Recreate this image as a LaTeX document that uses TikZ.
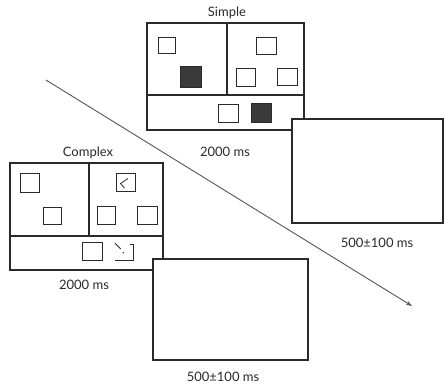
\documentclass[tikz,border=0pt]{standalone}
\usepackage{fontspec}
\setmainfont{Lato}
\usetikzlibrary{arrows.meta,calc}
\definecolor{ink}{HTML}{2A2A2A}
\definecolor{darkfill}{HTML}{3A3A3A}
\begin{document}
\begin{tikzpicture}[x=1pt,y=-1pt,
  frame/.style={draw=ink,line width=1.1pt,fill=white,inner sep=0pt},
  blank/.style={draw=ink,line width=1.1pt,fill=white,inner sep=0pt},
  sq/.style={draw=ink,line width=1pt,inner sep=0pt,minimum width=19pt,minimum height=17pt},
  fsq/.style={sq,fill=darkfill},
  lbl/.style={font=\fontsize{13}{15}\selectfont,text=ink,inner sep=0pt},
  divider/.style={draw=ink,line width=1.1pt},
  arrowline/.style={draw=ink!80,line width=0.9pt,-{Stealth[length=6pt,width=4pt]}}]
\useasboundingbox (0,0) rectangle (445,388);

% arrow in the background
\coordinate (a0) at (46,80);
\coordinate (a1) at (412,306);
\draw[arrowline] (a0) -- (a1);

% ---------- Simple ----------
\node[frame,minimum width=157pt,minimum height=107pt] (simple) at (225.5,76.5) {};
\draw[divider] (simple.west |- 0,95) -- (simple.east |- 0,95);
\draw[divider] (227,0 |- simple.north) -- (227,95);
\node[sq,minimum width=17pt,minimum height=16pt] (s1) at (167,45) {};
\node[fsq,minimum width=21pt,minimum height=21pt] (s2) at (190.5,76.5) {};
\node[sq,minimum width=20pt] (s3) at (266,45.5) {};
\node[sq,minimum height=18pt] (s4) at (245.5,77) {};
\node[sq,minimum width=20pt] (s5) at (287,76.5) {};
\node[sq,minimum width=20pt,minimum height=18pt] (s6) at (228,113) {};
\node[fsq,minimum width=20pt,minimum height=19pt] (s7) at (261,112.5) {};
\node[lbl] (simplelbl) at (227,13) {Simple};
\node[lbl] (simplems) at (225,152) {2000 ms};

% ---------- Complex ----------
\node[frame,minimum width=153pt,minimum height=107pt] (complex) at (86.5,216.5) {};
\draw[divider] (complex.west |- 0,236) -- (complex.east |- 0,236);
\draw[divider] (89,0 |- complex.north) -- (89,236);
\node[sq,minimum height=19pt] (c1) at (30,183) {};
\node[sq,minimum width=18pt] (c2) at (52,215.5) {};
\node[sq,minimum height=18pt] (c3) at (125.5,182.5) {};
\draw[ink,line width=0.8pt] ($(c3.center)+(2.5,-4)$) -- ($(c3.center)+(-5,1)$) -- ($(c3.center)+(-1,5.5)$);
\node[sq,minimum width=18pt,minimum height=18pt] (c4) at (106.5,215) {};
\node[sq,minimum width=20pt,minimum height=18pt] (c5) at (147,215) {};
\node[sq,minimum width=20pt,minimum height=18pt] (c6) at (92,251) {};
% broken square
\coordinate (c7) at (124,252);
\draw[ink,line width=1pt] ($(c7)+(6,-7.7)$) -- ($(c7)+(9.3,-7.7)$) -- ($(c7)+(9.3,8)$) -- ($(c7)+(-9,8)$);
\draw[ink,line width=0.9pt] ($(c7)+(-9,-8.7)$) -- ($(c7)+(-3.3,-3)$);
\fill[ink] ($(c7)+(-0.7,0.7)$) circle (0.8pt);
\node[lbl] (complexlbl) at (88,153) {Complex};
\node[lbl] (complexms) at (84,285) {2000 ms};

% ---------- blank screens ----------
\node[blank,minimum width=151pt,minimum height=104pt] (blank1) at (367.5,171) {};
\node[lbl] (blank1lbl) at (377,243) {500±100 ms};
\node[blank,minimum width=155pt,minimum height=101pt] (blank2) at (230.5,309.5) {};
\node[lbl] (blank2lbl) at (223,377) {500±100 ms};
\end{tikzpicture}
\end{document}
